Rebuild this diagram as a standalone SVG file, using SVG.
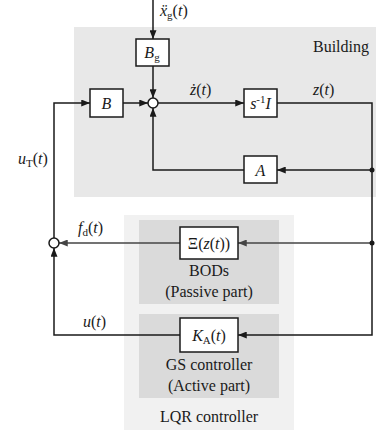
<svg xmlns="http://www.w3.org/2000/svg" width="376" height="432" viewBox="0 0 376 432">
<defs>
<marker id="ah" viewBox="0 0 10 8" refX="10" refY="4" markerWidth="9" markerHeight="7" markerUnits="userSpaceOnUse" orient="auto"><path d="M0,0 L10,4 L0,8 z" fill="#1a1a1a"/></marker>
<marker id="ahg" viewBox="0 0 10 8" refX="10" refY="4" markerWidth="9" markerHeight="7" markerUnits="userSpaceOnUse" orient="auto"><path d="M0,0 L10,4 L0,8 z" fill="#444"/></marker>
</defs>
<style>
text{font-family:'Liberation Serif','DejaVu Serif',serif}
.t{font-size:16px;fill:#1a1a1a}
.m{font-style:italic}
.s{font-size:11px;font-style:normal}
.box{fill:#fff;stroke:#1a1a1a;stroke-width:1.5}
.ln{fill:none;stroke:#1a1a1a;stroke-width:1.5}
.lg{fill:none;stroke:#444;stroke-width:1.5}
.sum{fill:#fff;stroke:#1a1a1a;stroke-width:1.5}
</style>
<rect width="376" height="432" fill="#fff"/>
<g id="building-area">
<rect x="74" y="27" width="302" height="170" fill="#e8e8e8"/>
<text class="t" x="369" y="52" text-anchor="end">Building</text>
</g>
<g id="lqr-area">
<rect x="124" y="215" width="170" height="215" fill="#f1f1f1"/>
<text class="t" x="209" y="422" text-anchor="middle">LQR controller</text>
</g>
<g id="bods-area">
<rect x="139" y="220" width="140" height="84" fill="#dadada"/>
<text class="t" x="209" y="276" text-anchor="middle">BODs</text>
<text class="t" x="209" y="297" text-anchor="middle">(Passive part)</text>
</g>
<g id="gs-area">
<rect x="139" y="314" width="140" height="84" fill="#dadada"/>
<text class="t" x="209" y="370" text-anchor="middle">GS controller</text>
<text class="t" x="209" y="391" text-anchor="middle">(Active part)</text>
</g>
<g id="connectors">
<path class="ln" d="M153,0 V39" marker-end="url(#ah)"/>
<path class="ln" d="M153,66 V98" marker-end="url(#ah)"/>
<path class="ln" d="M123,103 H148" marker-end="url(#ah)"/>
<path class="ln" d="M158,103 H244" marker-end="url(#ah)"/>
<path class="ln" d="M277,103 H372 V335 H238" marker-end="url(#ah)"/>
<path class="ln" d="M372,170 H277" marker-end="url(#ah)"/>
<path class="ln" d="M244,170 H153 V108" marker-end="url(#ah)"/>
<path class="lg" d="M372,243 H238" marker-end="url(#ahg)"/>
<path class="lg" d="M180,243 H59" marker-end="url(#ahg)"/>
<path class="ln" d="M180,335 H54 V248" marker-end="url(#ah)"/>
<path class="ln" d="M54,238 V103 H90" marker-end="url(#ah)"/>
<circle cx="372" cy="170" r="2.5" fill="#1a1a1a"/>
<circle cx="372" cy="243" r="2.5" fill="#1a1a1a"/>
<text class="t m" x="160" y="16">ẍ<tspan class="s" dy="3">g</tspan><tspan dy="-3" style="font-style:normal">(</tspan>t<tspan style="font-style:normal">)</tspan></text>
<text class="t m" x="190" y="95">ż<tspan style="font-style:normal">(</tspan>t<tspan style="font-style:normal">)</tspan></text>
<text class="t m" x="313" y="95">z<tspan style="font-style:normal">(</tspan>t<tspan style="font-style:normal">)</tspan></text>
<text class="t m" x="18" y="164">u<tspan class="s" dy="3">T</tspan><tspan dy="-3" style="font-style:normal">(</tspan>t<tspan style="font-style:normal">)</tspan></text>
<text class="t m" x="78" y="233">f<tspan class="s" dy="3">d</tspan><tspan dy="-3" style="font-style:normal">(</tspan>t<tspan style="font-style:normal">)</tspan></text>
<text class="t m" x="83" y="327">u<tspan style="font-style:normal">(</tspan>t<tspan style="font-style:normal">)</tspan></text>
</g>
<g id="sum1"><circle class="sum" cx="153" cy="103" r="5"/></g>
<g id="sum2"><circle class="sum" cx="54" cy="243" r="5"/></g>
<g id="Bg"><rect class="box" x="136" y="39" width="33" height="27"/><text class="t m" x="152" y="58" text-anchor="middle">B<tspan class="s" dy="3">g</tspan></text></g>
<g id="B"><rect class="box" x="90" y="89" width="33" height="28"/><text class="t m" x="106.5" y="109" text-anchor="middle">B</text></g>
<g id="integrator"><rect class="box" x="244" y="89" width="33" height="28"/><text class="t m" x="260.5" y="109" text-anchor="middle">s<tspan class="s" dy="-6">-1</tspan><tspan dy="6">I</tspan></text></g>
<g id="A"><rect class="box" x="244" y="156" width="33" height="27"/><text class="t m" x="260.5" y="176" text-anchor="middle">A</text></g>
<g id="Xi"><rect class="box" x="180" y="227" width="58" height="32"/><text class="t" x="209" y="249" text-anchor="middle">Ξ(<tspan class="m">z</tspan>(<tspan class="m">t</tspan>))</text></g>
<g id="KA"><rect class="box" x="180" y="318" width="58" height="34"/><text class="t" x="209" y="341" text-anchor="middle"><tspan class="m">K</tspan><tspan class="s" dy="3">A</tspan><tspan dy="-3">(</tspan><tspan class="m">t</tspan>)</text></g>
</svg>
